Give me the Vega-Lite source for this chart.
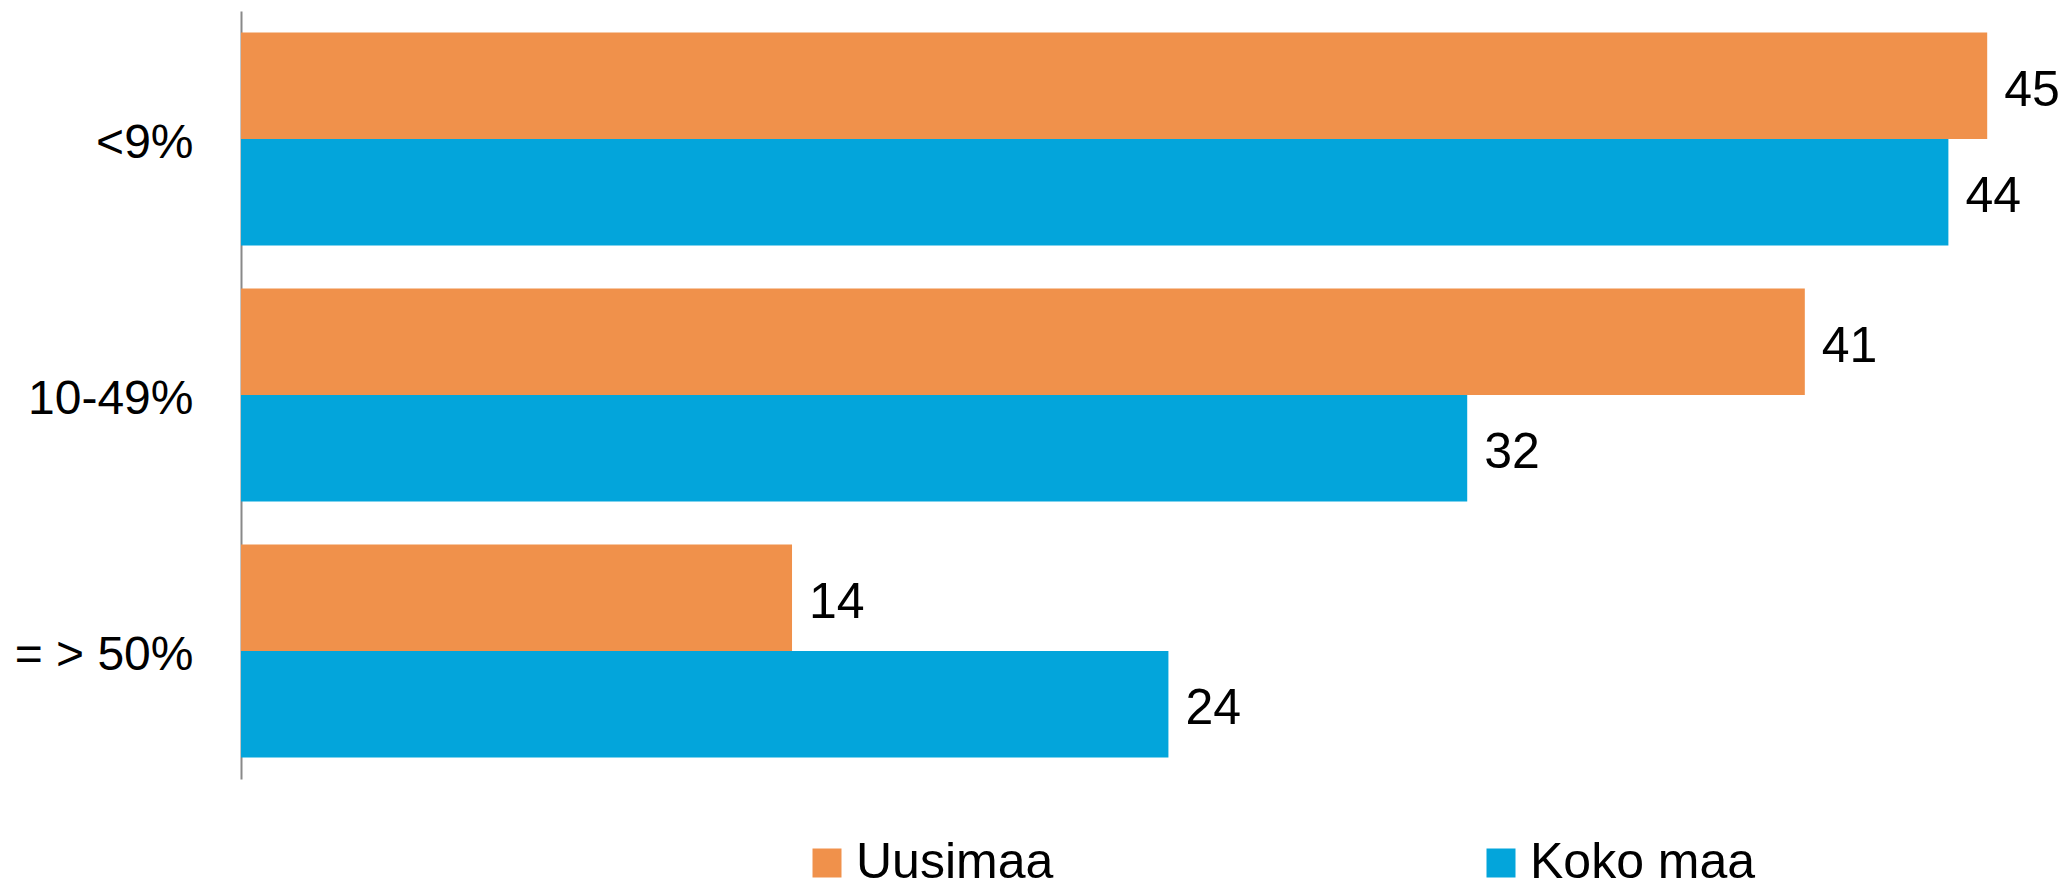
{
  "$schema": "https://vega.github.io/schema/vega-lite/v6.json",
  "autosize": {"type": "none"},
  "width": 1785,
  "height": 768,
  "padding": {"left": 241, "top": 11, "right": 39, "bottom": 104},
  "background": "white",
  "config": {"view": {"stroke": null}, "font": "Liberation Sans"},
  "data": {
    "values": [
      {"category": "<9%", "series": "Uusimaa", "value": 45, "label": "45"},
      {"category": "<9%", "series": "Koko maa", "value": 44, "label": "44"},
      {"category": "10-49%", "series": "Uusimaa", "value": 40.3, "label": "41"},
      {"category": "10-49%", "series": "Koko maa", "value": 31.6, "label": "32"},
      {"category": "= > 50%", "series": "Uusimaa", "value": 14.2, "label": "14"},
      {"category": "= > 50%", "series": "Koko maa", "value": 23.9, "label": "24"}
    ]
  },
  "encoding": {
    "y": {
      "field": "category",
      "type": "nominal",
      "sort": ["<9%", "10-49%", "= > 50%"],
      "scale": {"paddingInner": 0.168, "paddingOuter": 0.084},
      "axis": {
        "title": null,
        "ticks": false,
        "labelFontSize": 48,
        "labelColor": "#000000",
        "labelPadding": 48,
        "labelOffset": 5,
        "domainColor": "#898989",
        "domainWidth": 2,
        "labelFont": "Liberation Sans"
      }
    },
    "yOffset": {"field": "series", "type": "nominal", "sort": ["Uusimaa", "Koko maa"]},
    "x": {
      "field": "value",
      "type": "quantitative",
      "scale": {"domain": [0, 46], "nice": false},
      "axis": null
    }
  },
  "layer": [
    {
      "mark": {"type": "bar"},
      "encoding": {
        "color": {
          "field": "series",
          "type": "nominal",
          "sort": ["Uusimaa", "Koko maa"],
          "scale": {"domain": ["Uusimaa", "Koko maa"], "range": ["#F0914B", "#03A5DB"]},
          "legend": {
            "title": null,
            "orient": "none",
            "direction": "horizontal",
            "legendX": 561,
            "legendY": 827,
            "symbolType": "square",
            "symbolSize": 841,
            "symbolStrokeWidth": 0,
            "labelFontSize": 50,
            "labelFont": "Liberation Sans",
            "labelColor": "#000000",
            "labelOffset": 4,
            "columnPadding": 422,
            "labelLimit": 400
          }
        }
      }
    },
    {
      "mark": {"type": "text", "align": "left", "baseline": "middle", "dx": 17, "dy": 5, "fontSize": 50, "font": "Liberation Sans", "color": "#000000"},
      "encoding": {
        "text": {"field": "label", "type": "nominal"}
      }
    }
  ]
}
